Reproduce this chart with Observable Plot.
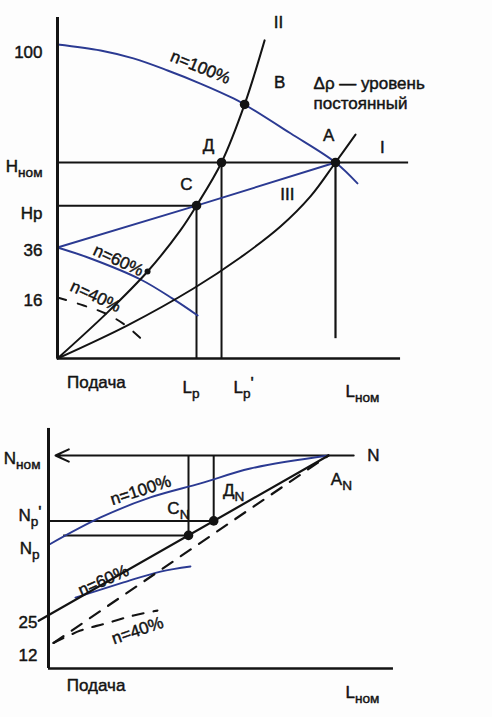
<!DOCTYPE html>
<html>
<head>
<meta charset="utf-8">
<script src="https://cdn.jsdelivr.net/npm/d3@7"></script>
<script src="https://cdn.jsdelivr.net/npm/@observablehq/plot@0.6"></script>
<style>
  html, body { margin: 0; padding: 0; background: #fdfdfd; }
  #chart { width: 492px; height: 717px; overflow: hidden; }
  #chart svg { display: block; }
</style>
</head>
<body>
<div id="chart"></div>
<script>
// ---------- Operating points (flow in % of L_nom, head / power in % of nominal) ----------
const Lp = 50, LpPrime = 59, Lnom = 100;
const Hnom = 62.8, Hp = 49.2;
const Nnom = 100, NpPrime = 69.3, Np = 62.5;

// ---------- Upper panel: head vs flow ----------
const headN100 = [
  {q: 0, h: 100}, {q: 15.5, h: 98.1}, {q: 27.3, h: 95.6}, {q: 39.6, h: 91.8},
  {q: 51.4, h: 87.7}, {q: 63.3, h: 83.0}, {q: 67.3, h: 81.1}, {q: 83.8, h: 72.0},
  {q: 100, h: 62.8}, {q: 107.9, h: 56.2}
];
const headN60 = [
  {q: 0, h: 36}, {q: 11.9, h: 31.6}, {q: 29.9, h: 23.2}, {q: 41.4, h: 15.7}, {q: 50.4, h: 11.3}
];
const headN40 = [
  {q: 0, h: 16}, {q: 9.4, h: 13.9}, {q: 17.3, h: 11.8}, {q: 24.5, h: 8.7}, {q: 32.7, h: 3.4}
];
const constDeltaP = [{q: 0, h: 36}, {q: 50, h: 49.2}, {q: 100, h: 62.8}];
const systemII = [
  {q: 0, h: 0}, {q: 18, h: 12.1}, {q: 32.4, h: 26.4}, {q: 44.2, h: 41.4}, {q: 50, h: 49.2},
  {q: 59, h: 62.8}, {q: 67.3, h: 81.1}, {q: 74.5, h: 101.3}
];
const systemIII = [
  {q: 0, h: 0}, {q: 25.2, h: 8.7}, {q: 48.9, h: 19.6}, {q: 65.8, h: 32},
  {q: 80.2, h: 42.6}, {q: 91.0, h: 52.1}, {q: 100, h: 62.8}, {q: 107.2, h: 71.6}
];
const headPoints = [
  {name: "A", q: 100, h: 62.8}, {name: "B", q: 67.3, h: 81.1},
  {name: "Д", q: 59, h: 62.8}, {name: "C", q: 50, h: 49.2}
];
const headMinorPoints = [{q: 32.4, h: 26.4}];
const headTicks = [
  {h: 100, label: "100"}, {h: 62.8, label: "H_{ном}"}, {h: 49.2, label: "Hp"},
  {h: 36, label: "36"}, {h: 16, label: "16"}
];
const flowTicksTop = [
  {q: 50, label: "L_{p}"}, {q: 59, label: "L_{p}'"}, {q: 100, label: "L_{ном}"}
];
const headNotes = [
  {text: "n=100%", q: 51.4, h: 92.8, angle: 22},
  {text: "n=60%", q: 21.9, h: 30.8, angle: 25},
  {text: "n=40%", q: 13.7, h: 16.4, angle: 25},
  {text: "B", q: 79.9, h: 88.0, angle: 0},
  {text: "A", q: 97.5, h: 71.3, angle: 0},
  {text: "I", q: 116.9, h: 67.5, angle: 0},
  {text: "II", q: 79.5, h: 106.9, angle: 0},
  {text: "III", q: 82.7, h: 52.7, angle: 0},
  {text: "Д", q: 54.3, h: 68.2, angle: 0},
  {text: "C", q: 46.4, h: 55.9, angle: 0}
];
const headCaption = [{text: "Δρ — уровень\nпостоянный", q: 92.1, h: 84.9}];

// ---------- Lower panel: power vs flow ----------
const powerN100 = [
  {q: 0, n: 58}, {q: 18.6, n: 70.9}, {q: 36.4, n: 80.3}, {q: 54.3, n: 86.9},
  {q: 72.1, n: 93.9}, {q: 100, n: 100}
];
const powerN60 = [{q: 9.6, n: 33.3}, {q: 26.8, n: 40.4}, {q: 40, n: 45.5}, {q: 50.7, n: 47.9}];
const powerN40 = [{q: 1.8, n: 12}, {q: 11.4, n: 17.8}, {q: 20.4, n: 21.1}, {q: 30.4, n: 24.9}, {q: 38.9, n: 27.2}];
const powerThrottle = [{q: -3.5, n: 22.4}, {q: 100, n: 100}];
const powerDashed = [{q: 1.8, n: 12}, {q: 100, n: 100}];
const powerPoints = [{q: 50, n: 62.5}, {q: 59, n: 69.3}];
const powerTicks = [
  {n: 100, label: "N_{ном}"}, {n: 69.3, label: "N_{p}'"}, {n: 62.5, label: "N_{p}"},
  {n: 25, label: "25"}, {n: 12, label: "12"}
];
const powerNotes = [
  {text: "n=100%", q: 32.9, n: 83.6, angle: -18},
  {text: "n=60%", q: 19.6, n: 41.3, angle: -24},
  {text: "n=40%", q: 31.8, n: 17.8, angle: -19},
  {text: "C_{N}", q: 46.4, n: 75.1, angle: 0},
  {text: "Д_{N}", q: 66.1, n: 83.6, angle: 0},
  {text: "A_{N}", q: 104.6, n: 88.7, angle: 0},
  {text: "N", q: 116, n: 100, angle: 0}
];

// ---------- Styling ----------
const INK = "#131313";
const BLUE = "#2b3a92";
const FONT = "'Liberation Sans', Arial, Helvetica, sans-serif";
const TXT = {fill: INK, stroke: INK, strokeWidth: 0.45};

// the head axis of the schematic is not uniform: each band between the
// marked levels 0, 16, 36 and 100 gets its own stretch
const headStretch = d3.scaleLinear().domain([0, 16, 36, 100, 108.5]).range([0, 61, 111, 314, 341]);

// nudges for tick labels (pixels)
const headTickNudge = {"100": 8, "H_{ном}": 4, "Hp": 8, "36": 3, "16": 3};
const flowTopNudge = {"L_{p}": [-14, 29], "L_{p}'": [12, 29], "L_{ном}": [10, 33]};
const powerTickNudge = {"N_{ном}": [-8, 3], "N_{p}'": [-7, -5], "N_{p}": [-9, 13], "25": [-11, 7], "12": [-11, 13]};

// render "X_{sub}rest" as text with a subscript tspan
function applySubscripts(svg) {
  d3.select(svg).selectAll("text").each(function () {
    if (this.querySelector("tspan")) return;
    const m = this.textContent.match(/^(.*?)_\{(.*?)\}(.*)$/);
    if (!m) return;
    const t = d3.select(this);
    t.text(null);
    t.append("tspan").text(m[1]);
    t.append("tspan").attr("font-size", "0.8em").attr("dy", "0.36em").text(m[2]);
    if (m[3]) t.append("tspan").attr("dy", "-0.5em").text(m[3]);
  });
  return svg;
}

const baseStyle = {background: "transparent", fontFamily: FONT, fontSize: "17px", color: INK, overflow: "visible"};

// ---------- Upper panel ----------
const headChart = Plot.plot({
  width: 492,
  height: 410,
  marginTop: 17,
  marginBottom: 52,
  style: baseStyle,
  x: {domain: [0, 100], range: [57, 335], axis: null},
  y: {domain: [0, 341], transform: headStretch, axis: null},
  marks: [
    // guide lines
    Plot.ruleY([Hnom], {x1: 0, x2: 126.3, stroke: INK, strokeWidth: 2}),
    Plot.ruleY([Hp], {x1: 0, x2: Lp, stroke: INK, strokeWidth: 2}),
    Plot.ruleX([Lp], {y1: 0, y2: Hp, stroke: INK, strokeWidth: 2}),
    Plot.ruleX([LpPrime], {y1: 0, y2: Hnom, stroke: INK, strokeWidth: 2}),
    Plot.ruleX([Lnom], {y1: 5.2, y2: Hnom, stroke: INK, strokeWidth: 2.2}),
    // pump curves
    Plot.line(headN100, {x: "q", y: "h", curve: "catmull-rom", stroke: BLUE, strokeWidth: 1.9}),
    Plot.line(headN60, {x: "q", y: "h", curve: "catmull-rom", stroke: BLUE, strokeWidth: 1.9}),
    Plot.line(headN40, {x: "q", y: "h", curve: "catmull-rom", stroke: INK, strokeWidth: 2, strokeDasharray: "9,12"}),
    Plot.line(constDeltaP, {x: "q", y: "h", stroke: BLUE, strokeWidth: 1.9}),
    // system curves
    Plot.line(systemII, {x: "q", y: "h", curve: "catmull-rom", stroke: INK, strokeWidth: 2}),
    Plot.line(systemIII, {x: "q", y: "h", curve: "catmull-rom", stroke: INK, strokeWidth: 2}),
    // axes
    Plot.ruleX([0], {y1: 0, y2: 108.5, stroke: INK, strokeWidth: 3}),
    Plot.ruleY([0], {x1: 0, x2: 123.4, stroke: INK, strokeWidth: 2.5}),
    // points
    Plot.dot(headPoints, {x: "q", y: "h", r: 4.8, fill: INK}),
    Plot.dot(headMinorPoints, {x: "q", y: "h", r: 3, fill: INK}),
    // tick labels
    ...headTicks.map(d => Plot.text([d], {x: 0, y: "h", text: "label", textAnchor: "end", dx: -15, dy: headTickNudge[d.label], ...TXT})),
    ...flowTicksTop.map(d => Plot.text([d], {x: "q", y: 0, text: "label", textAnchor: "start", dx: flowTopNudge[d.label][0], dy: flowTopNudge[d.label][1], ...TXT})),
    Plot.text(["Подача"], {x: 14, y: 0, dy: 24, ...TXT}),
    // annotations
    ...headNotes.map(d => Plot.text([d], {x: "q", y: "h", text: "text", rotate: d.angle, ...TXT})),
    Plot.text(headCaption, {x: "q", y: "h", text: "text", textAnchor: "start", lineHeight: 1.18, ...TXT})
  ]
});

// ---------- Lower panel ----------
const powerChart = Plot.plot({
  width: 492,
  height: 307,
  style: baseStyle,
  x: {domain: [0, 100], range: [48, 328], axis: null},
  y: {domain: [0, 100], range: [258, 45], axis: null},
  marks: [
    Plot.arrow([{x1: 109, x2: 2.5, y: Nnom}], {x1: "x1", x2: "x2", y1: "y", y2: "y", stroke: INK, strokeWidth: 2, headLength: 11, headAngle: 50}),
    Plot.ruleX([Lp], {y1: Np, y2: Nnom, stroke: INK, strokeWidth: 2}),
    Plot.ruleX([LpPrime], {y1: NpPrime, y2: Nnom, stroke: INK, strokeWidth: 2}),
    Plot.ruleY([NpPrime], {x1: 0, x2: LpPrime, stroke: INK, strokeWidth: 2}),
    Plot.ruleY([Np], {x1: 5.4, x2: Lp, stroke: INK, strokeWidth: 2}),
    Plot.line(powerN100, {x: "q", y: "n", curve: "catmull-rom", stroke: BLUE, strokeWidth: 1.9}),
    Plot.line(powerN60, {x: "q", y: "n", curve: "catmull-rom", stroke: BLUE, strokeWidth: 1.9}),
    Plot.line(powerN40, {x: "q", y: "n", curve: "catmull-rom", stroke: INK, strokeWidth: 2.2, strokeDasharray: "11,10"}),
    Plot.line(powerThrottle, {x: "q", y: "n", stroke: INK, strokeWidth: 2.2}),
    Plot.line(powerDashed, {x: "q", y: "n", stroke: INK, strokeWidth: 2.2, strokeDasharray: "12,10"}),
    Plot.ruleX([0], {y1: 0, y2: 112.7, stroke: INK, strokeWidth: 3}),
    Plot.ruleY([0], {x1: 0, x2: 123.2, stroke: INK, strokeWidth: 2.5}),
    Plot.dot(powerPoints, {x: "q", y: "n", r: 4.8, fill: INK}),
    ...powerTicks.map(d => Plot.text([d], {x: 0, y: "n", text: "label", textAnchor: "end", dx: powerTickNudge[d.label][0], dy: powerTickNudge[d.label][1], ...TXT})),
    Plot.text(["Подача"], {x: 17, y: 0, dy: 17, ...TXT}),
    Plot.text(["L_{ном}"], {x: Lnom, y: 0, dx: 17, dy: 24, textAnchor: "start", ...TXT}),
    ...powerNotes.map(d => Plot.text([d], {x: "q", y: "n", text: "text", rotate: d.angle, ...TXT}))
  ]
});

document.getElementById("chart").append(applySubscripts(headChart), applySubscripts(powerChart));
</script>
</body>
</html>
